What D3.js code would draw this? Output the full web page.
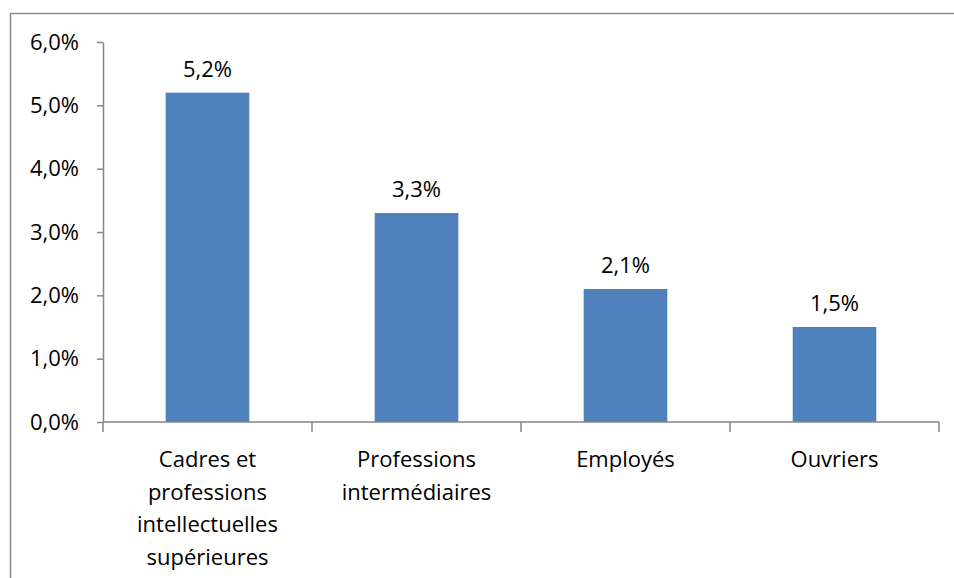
<!DOCTYPE html>
<html lang="fr">
<head>
<meta charset="utf-8">
<script src="https://cdn.jsdelivr.net/npm/d3@7"></script>
<style>
  html, body { margin: 0; padding: 0; background: #fff; }
  svg { display: block; }
  text { font-family: "Open Sans", "Liberation Sans", sans-serif; fill: #000; }
</style>
</head>
<body>
<svg id="chart" width="954" height="578"></svg>
<script>
// Catégories socioprofessionnelles et taux correspondants
const categories = [
  "Cadres et professions intellectuelles supérieures",
  "Professions intermédiaires",
  "Employés",
  "Ouvriers"
];
const categoryLines = [
  ["Cadres et", "professions", "intellectuelles", "supérieures"],
  ["Professions", "intermédiaires"],
  ["Employés"],
  ["Ouvriers"]
];
const values = [0.052, 0.033, 0.021, 0.015];
const yTicks = [0, 0.01, 0.02, 0.03, 0.04, 0.05, 0.06];

const svg = d3.select("#chart");
const axisColor = "#868686";
const barColor = "#4F81BD";
const fontSize = 22;
const fmt = v => d3.format(".1%")(v).replace(".", ",");

// Cadre extérieur du graphique
svg.append("rect")
  .attr("x", 10.5).attr("y", 13.5)
  .attr("width", 960).attr("height", 600)
  .attr("fill", "none")
  .attr("stroke", "#8c8c8c")
  .attr("stroke-width", 1.5);

const plot = { left: 103, right: 939, top: 42, bottom: 422 };

const x = d3.scaleBand()
  .domain(categories)
  .range([plot.left, plot.right])
  .paddingInner(0.6)
  .paddingOuter(0.3);

const y = d3.scaleLinear()
  .domain([0, 0.06])
  .range([plot.bottom, plot.top]);

// Axe vertical
const yAxis = svg.append("g")
  .attr("transform", `translate(${plot.left},0)`)
  .call(d3.axisLeft(y).tickValues(yTicks).tickFormat(fmt).tickSize(6).tickSizeOuter(0).tickPadding(18));
yAxis.select(".domain").attr("stroke", axisColor).attr("stroke-width", 1.5);
yAxis.selectAll(".tick line").attr("stroke", axisColor).attr("stroke-width", 1.5);
yAxis.selectAll(".tick text")
  .attr("font-size", fontSize)
  .attr("font-family", "'Open Sans', sans-serif")
  .attr("fill", "#000");

// Barres
svg.append("g").selectAll("rect")
  .data(values)
  .join("rect")
  .attr("x", (d, i) => x(categories[i]))
  .attr("y", d => y(d))
  .attr("width", x.bandwidth())
  .attr("height", d => y(0) - y(d))
  .attr("fill", barColor);

// Étiquettes de valeur
svg.append("g").selectAll("text")
  .data(values)
  .join("text")
  .attr("x", (d, i) => x(categories[i]) + x.bandwidth() / 2)
  .attr("y", d => y(d) - 16)
  .attr("text-anchor", "middle")
  .attr("font-size", fontSize)
  .text(d => fmt(d));

// Axe horizontal : ligne et graduations entre catégories
const xg = svg.append("g");
xg.append("line")
  .attr("x1", plot.left).attr("x2", plot.right)
  .attr("y1", y(0)).attr("y2", y(0))
  .attr("stroke", axisColor).attr("stroke-width", 1.5);
const gap = (x.step() - x.bandwidth()) / 2;
const boundaries = categories.map(c => x(c) - gap);
boundaries.push(x(categories[categories.length - 1]) + x.bandwidth() + gap);
xg.selectAll("line.tick")
  .data(boundaries)
  .join("line")
  .attr("class", "tick")
  .attr("x1", d => d).attr("x2", d => d)
  .attr("y1", y(0)).attr("y2", y(0) + 10)
  .attr("stroke", axisColor).attr("stroke-width", 1.5);

// Libellés des catégories
const labels = svg.append("g").selectAll("text")
  .data(categories)
  .join("text")
  .attr("text-anchor", "middle")
  .attr("font-size", fontSize);
labels.each(function (c, i) {
  const t = d3.select(this);
  categoryLines[i].forEach((line, j) => {
    t.append("tspan")
      .attr("x", x(c) + x.bandwidth() / 2)
      .attr("y", 467 + j * 32.5)
      .text(line);
  });
});
</script>
</body>
</html>
